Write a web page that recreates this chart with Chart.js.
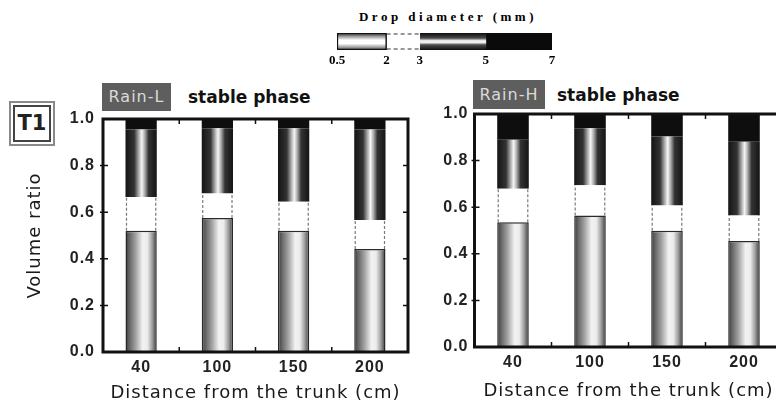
<!DOCTYPE html>
<html>
<head>
<meta charset="utf-8">
<title>Volume ratio of drop size classes</title>
<script src="https://cdn.jsdelivr.net/npm/chart.js@4.4.1/dist/chart.umd.min.js"></script>
<style>
  body { margin: 0; width: 776px; height: 403px; overflow: hidden; background: #fff; position: relative; font-family: "DejaVu Sans", sans-serif; color: #1a1a1a; }
  canvas { position: absolute; }
  .tag { position: absolute; background: #5e5e5e; color: #dadada; font-size: 16px; letter-spacing: 1px; text-align: center; }
  .phase { position: absolute; font-weight: bold; font-size: 17px; line-height: 20px; color: #111; }
  #t1 { position: absolute; left: 9px; top: 101px; width: 42px; height: 41px; border: 2px solid #8a8a8a; padding: 0; }
  #t1 div { margin: 2px; height: 33px; border: 2px solid #444; font-weight: bold; font-size: 21px; line-height: 33px; text-align: center; color: #222; }
  #legendTitle { position: absolute; left: 345px; top: 9px; width: 200px; padding-left: 3px; text-align: center; font-family: "Liberation Serif", serif; font-weight: bold; font-size: 13px; line-height: 16px; letter-spacing: 3.5px; color: #000; }
</style>
</head>
<body>
<div id="legendTitle">Drop diameter (mm)</div>
<canvas id="legend" width="280" height="75" style="left:300px;top:0px"></canvas>

<div id="t1"><div>T1</div></div>
<div class="tag" style="left:102px;top:83px;width:69px;height:28px;line-height:28px">Rain-L</div>
<div class="phase" style="left:188px;top:87px">stable phase</div>
<div class="tag" style="left:473px;top:80px;width:72px;height:29px;line-height:29px">Rain-H</div>
<div class="phase" style="left:557px;top:85px">stable phase</div>

<canvas id="rainL" width="430" height="403" style="left:0px;top:0px"></canvas>
<canvas id="rainH" width="420" height="403" style="left:420px;top:0px"></canvas>

<script>
var distances = ["40", "100", "150", "200"];
var sizeClasses = ["0.5-2", "2-3", "3-5", "5-7"];
var yTicks = [0, 0.2, 0.4, 0.6, 0.8, 1.0];

// Rain-L, stable phase: volume ratio of each drop size class
var rainL_05_2 = [0.52, 0.575, 0.52, 0.442];
var rainL_2_3 = [0.145, 0.105, 0.125, 0.124];
var rainL_3_5 = [0.29, 0.28, 0.315, 0.389];
var rainL_5_7 = [0.045, 0.04, 0.04, 0.045];

// Rain-H, stable phase
var rainH_05_2 = [0.535, 0.564, 0.499, 0.455];
var rainH_2_3 = [0.144, 0.13, 0.108, 0.109];
var rainH_3_5 = [0.21, 0.245, 0.296, 0.317];
var rainH_5_7 = [0.111, 0.061, 0.097, 0.119];

// drop diameter class limits (mm) for the key on top
var legendEdges = [0.5, 2, 3, 5, 7];

var BAR_PCT = 0.41;

Chart.defaults.font.family = "'DejaVu Sans', sans-serif";
Chart.defaults.color = "#1e1e1e";

var tickFont = { family: "'Liberation Sans', Arial, sans-serif", weight: "bold", size: 16 };

var lightStops = [[0, "#333"], [0.1, "#5e5e5e"], [0.32, "#a0a0a0"], [0.55, "#f2f2f2"], [0.7, "#ececec"], [0.86, "#9a9a9a"], [0.95, "#5a5a5a"], [1, "#333"]];
var grayStops = [[0, "#141414"], [0.28, "#333"], [0.42, "#a8a8a8"], [0.52, "#f6f6f6"], [0.62, "#a8a8a8"], [0.74, "#333"], [1, "#141414"]];

/**
 * Horizontal "cylinder" gradient across one bar, placed with the x scale
 */
function cylinder(stops) {
    return function (context) {
        var chart = context.chart;
        var x = chart.scales.x;
        if (!chart.chartArea || !x) {
            return stops[3][1];
        }
        var cx = x.getPixelForValue(context.dataIndex);
        var w = x.width / chart.data.labels.length * BAR_PCT;
        var g = chart.ctx.createLinearGradient(cx - w / 2, 0, cx + w / 2, 0);
        stops.forEach(function (s) { g.addColorStop(s[0], s[1]); });
        return g;
    };
}

/**
 * Vertical gradient over the chart area (for the horizontal key bar)
 */
function band(stops) {
    return function (context) {
        var a = context.chart.chartArea;
        if (!a) {
            return stops[0][1];
        }
        var g = context.chart.ctx.createLinearGradient(0, a.top, 0, a.bottom);
        stops.forEach(function (s) { g.addColorStop(s[0], s[1]); });
        return g;
    };
}

// frame, inward ticks and dashed edges of the 2-3 mm segment
var framePlugin = {
    id: "frame",
    beforeDraw: function (chart) {
        chart.ctx.letterSpacing = "1px";
    },
    afterDatasetsDraw: function (chart) {
        var ctx = chart.ctx;
        var meta = chart.getDatasetMeta(1);
        ctx.save();
        ctx.strokeStyle = "#7a7a7a";
        ctx.lineWidth = 1.2;
        ctx.setLineDash([3, 2]);
        meta.data.forEach(function (el) {
            var p = el.getProps(["x", "y", "base", "width"], true);
            var l = p.x - p.width / 2 + 1, r = p.x + p.width / 2 - 1;
            var t = Math.min(p.y, p.base), b = Math.max(p.y, p.base);
            ctx.beginPath();
            ctx.moveTo(l, b); ctx.lineTo(l, t);
            ctx.moveTo(r, b); ctx.lineTo(r, t);
            ctx.stroke();
        });
        ctx.restore();
    },
    afterDraw: function (chart) {
        var ctx = chart.ctx, a = chart.chartArea;
        var x = chart.scales.x, y = chart.scales.y;
        ctx.save();
        ctx.strokeStyle = "#111";
        ctx.lineWidth = 1.5;
        ctx.beginPath();
        for (var i = 1; i < chart.data.labels.length; i++) {
            var xb = (x.getPixelForValue(i - 1) + x.getPixelForValue(i)) / 2;
            ctx.moveTo(xb, a.bottom); ctx.lineTo(xb, a.bottom - 5);
            ctx.moveTo(xb, a.top); ctx.lineTo(xb, a.top + 5);
        }
        yTicks.slice(1, -1).forEach(function (v) {
            var py = y.getPixelForValue(v);
            ctx.moveTo(a.right, py); ctx.lineTo(a.right - 5, py);
            ctx.moveTo(a.left - 3, py); ctx.lineTo(a.left + 5, py);
        });
        ctx.stroke();
        ctx.lineWidth = 3;
        ctx.strokeRect(a.left, a.top, a.right - a.left, a.bottom - a.top);
        ctx.restore();
    }
};

/**
 * Stacked volume ratio chart for one rain intensity
 */
function createPanel(id, series, layout) {
    var fills = [cylinder(lightStops), "#ffffff", cylinder(grayStops), "#0e0e0e"];
    return new Chart(document.getElementById(id), {
        type: "bar",
        data: {
            labels: distances,
            datasets: sizeClasses.map(function (name, k) {
                return {
                    label: name,
                    data: series[k],
                    backgroundColor: fills[k],
                    borderColor: "#2a2a2a",
                    borderWidth: k === 0 ? 1.5 : 0,
                    barPercentage: BAR_PCT,
                    categoryPercentage: 1
                };
            })
        },
        options: {
            responsive: false,
            animation: false,
            layout: { padding: { top: layout.top, right: layout.right, bottom: 0, left: 0 } },
            plugins: { legend: { display: false }, tooltip: { enabled: false } },
            scales: {
                x: {
                    stacked: true,
                    grid: { display: false, drawTicks: false },
                    border: { display: false },
                    ticks: { font: tickFont, padding: 6, color: "#222" },
                    title: {
                        display: true,
                        text: "Distance from the trunk (cm)",
                        font: { size: 18 },
                        color: "#1a1a1a",
                        padding: { top: 0, bottom: layout.titleBottom }
                    },
                    afterFit: function (scale) { scale.height = layout.xHeight; }
                },
                y: {
                    stacked: true,
                    min: 0,
                    max: 1,
                    afterBuildTicks: function (scale) {
                        scale.ticks = yTicks.map(function (v) { return { value: v }; });
                    },
                    grid: { display: false, drawTicks: false },
                    border: { display: false },
                    ticks: {
                        font: tickFont,
                        padding: layout.tickPad,
                        color: "#222",
                        callback: function (v) { return v.toFixed(1); }
                    },
                    title: {
                        display: layout.yTitle,
                        text: "Volume ratio",
                        font: { size: 18 },
                        color: "#1a1a1a",
                        padding: { top: 25, bottom: 0 }
                    },
                    afterFit: function (scale) { scale.width = layout.yWidth; }
                }
            }
        },
        plugins: [framePlugin]
    });
}

createPanel("rainL", [rainL_05_2, rainL_2_3, rainL_3_5, rainL_5_7],
    { top: 119, right: 22, yWidth: 103, xHeight: 51, tickPad: 8, yTitle: true, titleBottom: -1 });
createPanel("rainH", [rainH_05_2, rainH_2_3, rainH_3_5, rainH_5_7],
    { top: 114, right: 57.5, yWidth: 54.5, xHeight: 56, tickPad: 6, yTitle: false, titleBottom: 1 });

// key: drop diameter classes
var legendFills = [
    band([[0, "#222"], [0.2, "#999"], [0.42, "#fff"], [0.62, "#fff"], [0.85, "#999"], [1, "#222"]]),
    "#ffffff",
    band([[0, "#0c0c0c"], [0.3, "#4a4a4a"], [0.45, "#eee"], [0.56, "#eee"], [0.7, "#4a4a4a"], [1, "#0c0c0c"]]),
    "#0a0a0a"
];

var keyDashPlugin = {
    id: "keyDash",
    afterDatasetsDraw: function (chart) {
        var ctx = chart.ctx, a = chart.chartArea;
        var x = chart.scales.x;
        var l = x.getPixelForValue(legendEdges[1]), r = x.getPixelForValue(legendEdges[2]);
        ctx.save();
        ctx.strokeStyle = "#333";
        ctx.lineWidth = 1.2;
        ctx.setLineDash([4, 3]);
        ctx.beginPath();
        ctx.moveTo(l, a.top + 1); ctx.lineTo(r, a.top + 1);
        ctx.moveTo(l, a.bottom - 1); ctx.lineTo(r, a.bottom - 1);
        ctx.stroke();
        ctx.restore();
    }
};

new Chart(document.getElementById("legend"), {
    type: "bar",
    data: {
        labels: ["diameter"],
        datasets: sizeClasses.map(function (name, k) {
            return {
                label: name,
                data: [[legendEdges[k], legendEdges[k + 1]]],
                backgroundColor: legendFills[k],
                borderColor: "#111",
                borderWidth: k === 0 ? 1.5 : 0,
                borderSkipped: false,
                grouped: false,
                barPercentage: 1,
                categoryPercentage: 1
            };
        })
    },
    options: {
        indexAxis: "y",
        responsive: false,
        animation: false,
        layout: { padding: { top: 33, right: 28, bottom: 0, left: 37 } },
        plugins: { legend: { display: false }, tooltip: { enabled: false } },
        scales: {
            x: {
                type: "linear",
                min: legendEdges[0],
                max: legendEdges[legendEdges.length - 1],
                afterBuildTicks: function (scale) {
                    scale.ticks = legendEdges.map(function (v) { return { value: v }; });
                },
                grid: { display: false, drawTicks: false },
                border: { display: false },
                ticks: {
                    font: { family: "'Liberation Serif', serif", weight: "bold", size: 13 },
                    color: "#000",
                    padding: 3,
                    callback: function (v) { return String(v); }
                },
                afterFit: function (scale) { scale.height = 25; }
            },
            y: { display: false }
        }
    },
    plugins: [keyDashPlugin]
});
</script>
</body>
</html>
